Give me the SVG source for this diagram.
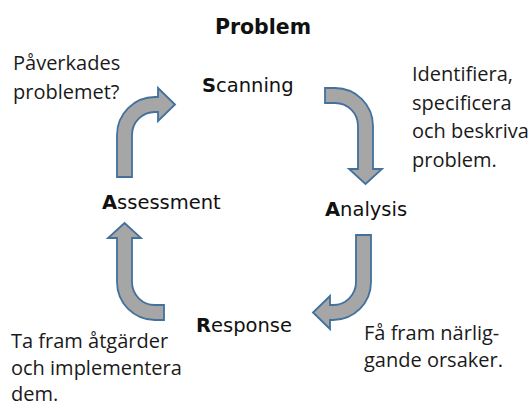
<svg xmlns="http://www.w3.org/2000/svg" width="532" height="409" viewBox="0 0 532 409">
<style>
.lbl{font-family:"DejaVu Sans",Verdana,sans-serif;font-size:19.5px;fill:#111}
.lbl tspan.b{font-weight:bold}
.note{font-family:"Open Sans","Noto Sans",sans-serif;font-size:20px;fill:#1a1a1a}
.title{font-family:"DejaVu Sans",Verdana,sans-serif;font-size:20.5px;font-weight:bold;fill:#111}
.arr{fill:#a6a6a6;stroke:#41719c;stroke-width:1.8;stroke-linejoin:miter}
</style>
<rect width="532" height="409" fill="#fff"/>
<text class="title" x="263" y="34" text-anchor="middle">Problem</text>
<g id="scanning"><text class="lbl" x="202" y="92"><tspan class="b">S</tspan>canning</text></g>
<g id="analysis"><text class="lbl" x="325" y="216"><tspan class="b">A</tspan>nalysis</text></g>
<g id="response"><text class="lbl" x="196" y="332"><tspan class="b">R</tspan>esponse</text></g>
<g id="assessment"><text class="lbl" x="102" y="209"><tspan class="b">A</tspan>ssessment</text></g>
<g id="note-assessment"><text class="note" x="13" y="70">Påverkades</text><text class="note" x="13" y="99">problemet?</text></g>
<g id="note-scanning"><text class="note" x="412" y="81">Identifiera,</text><text class="note" x="412" y="109.5">specificera</text><text class="note" x="412" y="138">och beskriva</text><text class="note" x="412" y="166.5">problem.</text></g>
<g id="note-analysis"><text class="note" x="364" y="340">Få fram närlig-</text><text class="note" x="364" y="367">gande orsaker.</text></g>
<g id="note-response"><text class="note" x="11" y="348">Ta fram åtgärder</text><text class="note" x="11" y="375">och implementera</text><text class="note" x="11" y="401">dem.</text></g>
<g id="connectors">
<path class="arr" d="M117,177 L117,135 A38,38 0 0 1 155,97 L158,97 L158,88 L175,104.5 L158,121 L158,112 L155,112 A23,23 0 0 0 132,135 L132,177 Z"/>
<path class="arr" d="M325,88 L335,88 A38,38 0 0 1 373,126 L373,169 L382,169 L365.5,184 L349,169 L358,169 L358,126 A23,23 0 0 0 335,103 L325,103 Z"/>
<path class="arr" d="M356,235 L371,235 L371,282 A38,38 0 0 1 333,320 L330,320 L330,329 L313,312.5 L330,296 L330,305 L333,305 A23,23 0 0 0 356,282 Z"/>
<path class="arr" d="M124.5,223 L141,238 L132,238 L132,282 A23,23 0 0 0 155,305 L164,305 L164,320 L155,320 A38,38 0 0 1 117,282 L117,238 L108,238 Z"/>
</g>
</svg>
